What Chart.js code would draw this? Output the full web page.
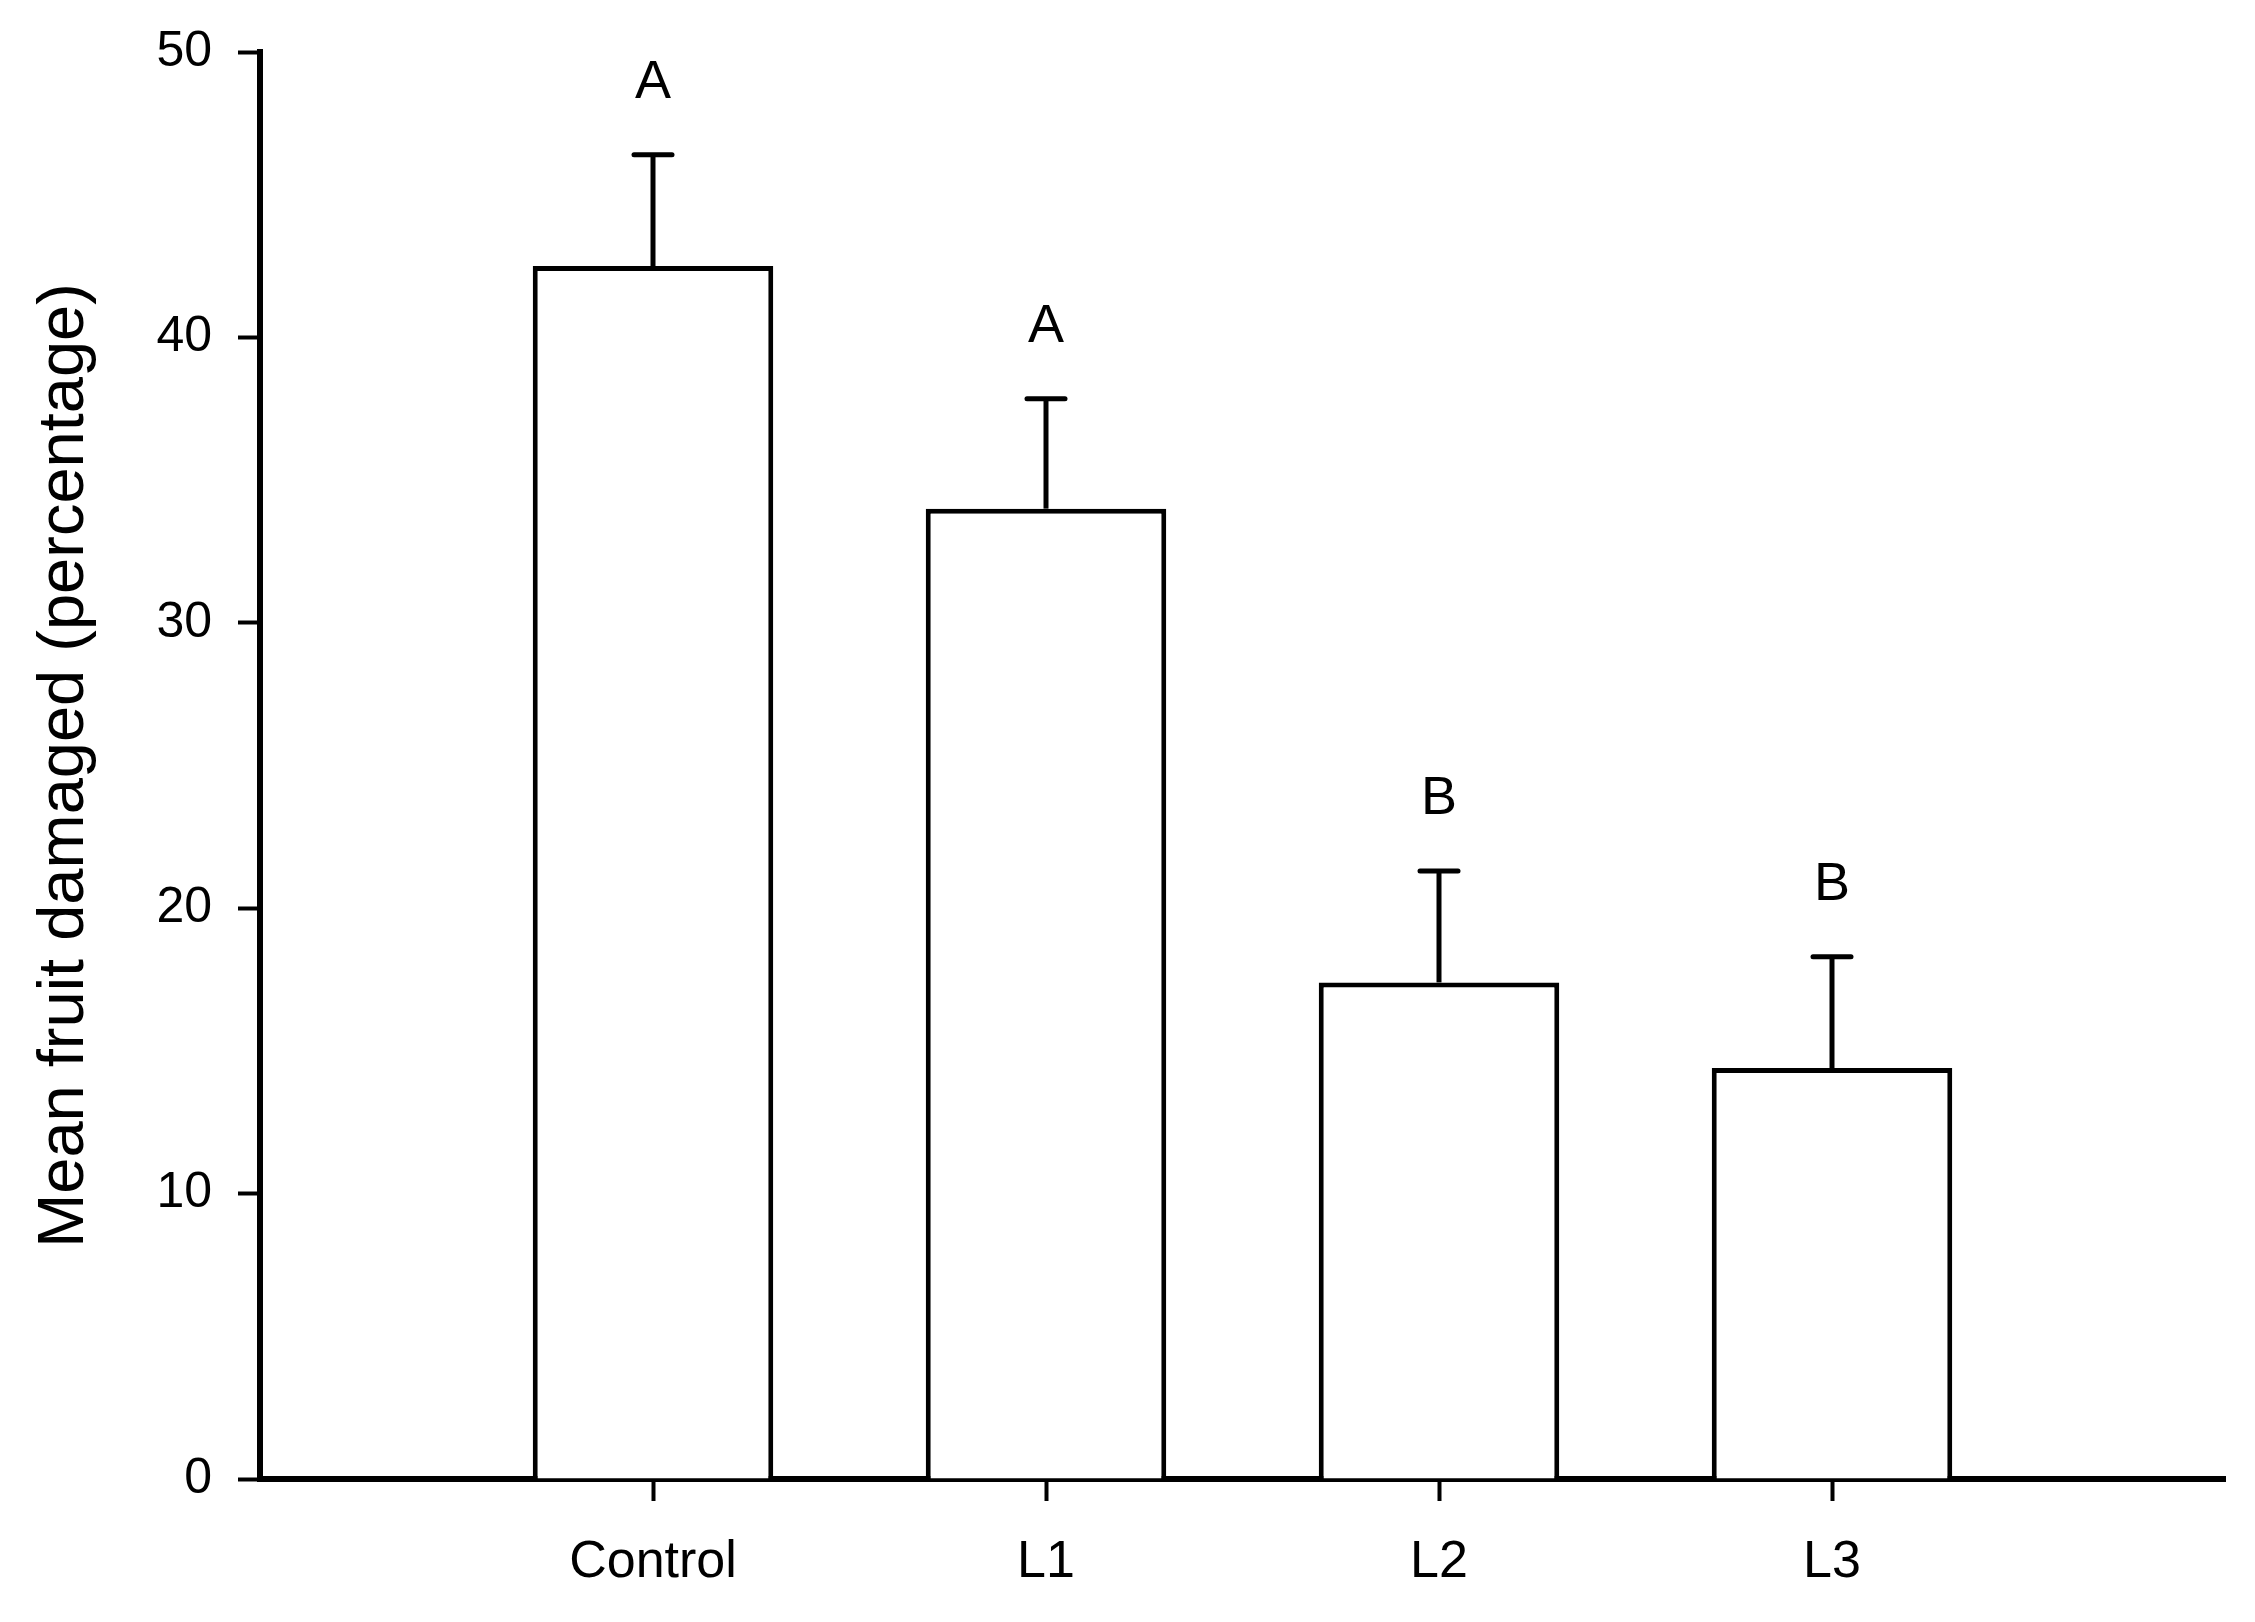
<!DOCTYPE html>
<html><head><meta charset="utf-8">
<script src="https://cdn.jsdelivr.net/npm/chart.js@4"></script>
<style>html,body{margin:0;padding:0;background:#fff;} canvas{display:block;}</style>
</head><body>
<canvas id="c" width="2255" height="1622"></canvas>
<script>
const categories = ['Control', 'L1', 'L2', 'L3'];
const meanDamage = [42.5, 34.0, 17.4, 14.4];
const stdError = [3.9, 3.85, 3.9, 3.9];
const groupLetters = ['A', 'A', 'B', 'B'];
const yTickValues = [0, 10, 20, 30, 40, 50];
const yTitle = 'Mean fruit damaged (percentage)';

const FONT = '"Liberation Sans", Arial, Helvetica, sans-serif';
const LETTER_GAP = 2.0;

const errorBarPlugin = {
  id: 'errorBars',
  afterDatasetsDraw(chart) {
    const ctx = chart.ctx;
    const meta = chart.getDatasetMeta(0);
    const y = chart.scales.y;
    ctx.save();
    ctx.strokeStyle = '#000';
    ctx.fillStyle = '#000';
    ctx.lineWidth = 5;
    meta.data.forEach((bar, i) => {
      const top = y.getPixelForValue(meanDamage[i] + stdError[i]);
      ctx.lineCap = 'butt';
      ctx.beginPath(); ctx.moveTo(bar.x, bar.y); ctx.lineTo(bar.x, top); ctx.stroke();
      ctx.lineCap = 'round';
      ctx.beginPath(); ctx.moveTo(bar.x - 19, top); ctx.lineTo(bar.x + 19, top); ctx.stroke();
      ctx.font = '54px ' + FONT;
      ctx.textAlign = 'center';
      ctx.textBaseline = 'alphabetic';
      ctx.fillText(groupLetters[i], bar.x, y.getPixelForValue(meanDamage[i] + stdError[i] + LETTER_GAP));
    });
    ctx.restore();
  }
};

new Chart(document.getElementById('c'), {
  type: 'bar',
  data: {
    datasets: [{
      data: categories.map((c, i) => ({ x: i + 1, y: meanDamage[i] })),
      backgroundColor: '#ffffff',
      borderColor: '#000000',
      borderWidth: 5,
      barPercentage: 0.612,
      categoryPercentage: 1.0
    }]
  },
  options: {
    responsive: false,
    devicePixelRatio: 1,
    animation: false,
    layout: { padding: { top: 52, right: 30, left: 0, bottom: 0 } },
    plugins: { legend: { display: false }, tooltip: { enabled: false } },
    scales: {
      x: {
        type: 'linear',
        min: 0,
        max: categories.length + 1,
        offset: false,
        afterBuildTicks(scale) {
          scale.ticks = categories.map((c, i) => ({ value: i + 1 }));
        },
        afterFit(scale) { scale.height = 143; scale.paddingLeft = 0; scale.paddingRight = 0; },
        ticks: {
          autoSkip: false,
          maxRotation: 0,
          padding: 30,
          color: '#000',
          font: { family: FONT, size: 52 },
          callback: (v) => categories[v - 1] ?? ''
        },
        grid: {
          offset: false,
          drawOnChartArea: false,
          drawTicks: true,
          tickLength: 22,
          tickWidth: 4,
          tickColor: '#000',
          color: '#000'
        },
        border: { display: true, color: '#000', width: 6 }
      },
      y: {
        min: 0,
        max: 50,
        afterBuildTicks(scale) {
          scale.ticks = yTickValues.map(v => ({ value: v }));
        },
        afterFit(scale) { scale.width = 260; scale.paddingTop = 0; scale.paddingBottom = 0; },
        ticks: {
          padding: 26,
          color: '#000',
          font: { family: FONT, size: 50 }
        },
        grid: {
          drawOnChartArea: false,
          drawTicks: true,
          tickLength: 22,
          tickWidth: 4,
          tickColor: '#000',
          color: '#000'
        },
        border: { display: true, color: '#000', width: 6 },
        title: {
          display: true,
          text: yTitle,
          color: '#000',
          font: { family: FONT, size: 65 },
          padding: { top: 26, bottom: 0 }
        }
      }
    }
  },
  plugins: [errorBarPlugin]
});
</script>
</body></html>
